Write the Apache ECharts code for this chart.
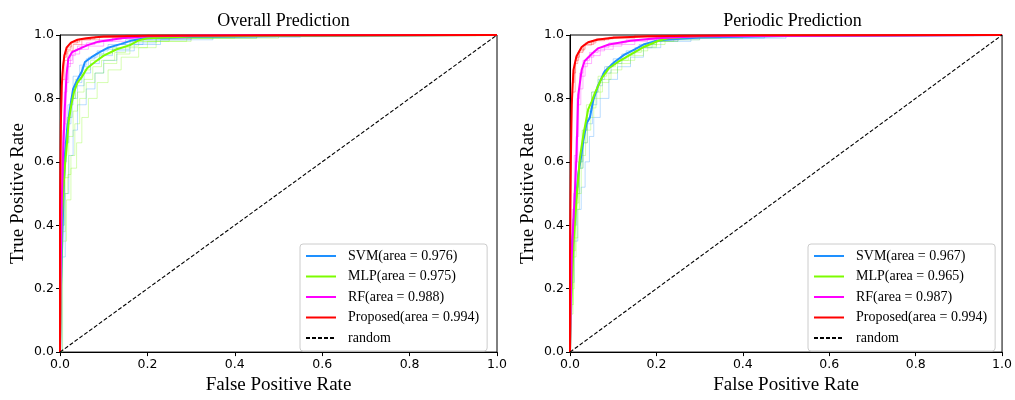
<!DOCTYPE html>
<html>
<head>
<meta charset="utf-8">
<script src="https://cdn.jsdelivr.net/npm/echarts@6/dist/echarts.min.js"></script>
<style>
  html, body { margin: 0; padding: 0; background: #fff; }
  #chart { width: 1015px; height: 400px; }
</style>
</head>
<body>
<div id="chart"></div>
<script>
// ROC curves of four classifiers for two prediction settings.
const models = ['SVM', 'MLP', 'RF', 'Proposed'];
const modelColors = ['#1e90ff', '#7cfc00', '#ff00ff', '#ff0000'];
const panelTitles = ['Overall Prediction', 'Periodic Prediction'];
const overallAUC = [0.976, 0.975, 0.988, 0.994];
const periodicAUC = [0.967, 0.965, 0.987, 0.994];
const tickLabels = ['0.0', '0.2', '0.4', '0.6', '0.8', '1.0'];

// Mean ROC curves, [FPR, TPR]
const overallSVM = [[0,0],[0.002,0.2],[0.005,0.34],[0.008,0.5],[0.011,0.62],[0.016,0.7],[0.023,0.77],[0.03,0.83],[0.04,0.86],[0.05,0.885],[0.057,0.915],[0.072,0.93],[0.09,0.945],[0.11,0.96],[0.14,0.972],[0.165,0.983],[0.195,0.99],[0.3,0.994],[0.5,0.997],[0.7,0.999],[1,1]];
const overallMLP = [[0,0],[0.002,0.15],[0.004,0.41],[0.008,0.52],[0.012,0.6],[0.016,0.66],[0.02,0.73],[0.026,0.78],[0.032,0.82],[0.04,0.85],[0.05,0.868],[0.062,0.895],[0.08,0.915],[0.1,0.935],[0.13,0.955],[0.16,0.968],[0.18,0.983],[0.2,0.99],[0.3,0.995],[0.5,0.998],[1,1]];
const overallRF = [[0,0],[0.002,0.3],[0.004,0.47],[0.007,0.62],[0.011,0.77],[0.015,0.875],[0.019,0.925],[0.027,0.945],[0.034,0.95],[0.05,0.96],[0.065,0.969],[0.088,0.979],[0.14,0.99],[0.2,0.996],[0.4,0.999],[1,1]];
const overallProposed = [[0,0],[0,0.45],[0.002,0.72],[0.004,0.84],[0.007,0.9],[0.01,0.935],[0.015,0.96],[0.025,0.976],[0.04,0.985],[0.06,0.99],[0.1,0.995],[0.2,0.998],[0.5,0.999],[1,1]];

const periodicSVM = [[0,0],[0.002,0.22],[0.004,0.33],[0.008,0.39],[0.012,0.45],[0.019,0.56],[0.025,0.61],[0.031,0.667],[0.038,0.72],[0.046,0.74],[0.054,0.795],[0.065,0.84],[0.08,0.885],[0.103,0.915],[0.126,0.938],[0.15,0.955],[0.17,0.97],[0.195,0.98],[0.22,0.985],[0.3,0.992],[0.5,0.997],[1,1]];
const periodicMLP = [[0,0],[0.002,0.1],[0.004,0.19],[0.008,0.336],[0.015,0.48],[0.023,0.614],[0.031,0.686],[0.042,0.765],[0.05,0.79],[0.057,0.815],[0.073,0.863],[0.09,0.895],[0.111,0.915],[0.142,0.94],[0.172,0.963],[0.205,0.982],[0.226,0.99],[0.3,0.996],[0.5,0.999],[1,1]];
const periodicRF = [[0,0],[0.002,0.15],[0.004,0.3],[0.008,0.42],[0.011,0.5],[0.015,0.62],[0.019,0.81],[0.027,0.89],[0.034,0.918],[0.05,0.94],[0.065,0.958],[0.09,0.97],[0.14,0.982],[0.2,0.99],[0.3,0.996],[1,1]];
const periodicProposed = [[0,0],[0,0.3],[0.002,0.6],[0.004,0.78],[0.008,0.89],[0.015,0.933],[0.027,0.962],[0.042,0.977],[0.065,0.986],[0.1,0.991],[0.18,0.996],[0.4,0.999],[1,1]];

// Per-fold ROC curves (drawn faint behind the means)
const overallSVMFolds = [
  [[0,0],[0.002,0.34],[0.006,0.55],[0.012,0.66],[0.02,0.74],[0.028,0.8],[0.04,0.84],[0.055,0.88],[0.07,0.91],[0.09,0.935],[0.12,0.955],[0.16,0.975],[0.22,0.99],[0.45,1],[1,1]],
  [[0,0],[0.004,0.4],[0.009,0.6],[0.015,0.72],[0.025,0.8],[0.035,0.85],[0.05,0.9],[0.065,0.93],[0.085,0.95],[0.11,0.97],[0.15,0.985],[0.25,0.995],[0.6,1],[1,1]],
  [[0,0],[0.003,0.45],[0.008,0.66],[0.018,0.78],[0.03,0.87],[0.045,0.905],[0.06,0.925],[0.08,0.94],[0.1,0.955],[0.13,0.97],[0.19,0.985],[0.3,0.993],[0.55,1],[1,1]],
  [[0,0],[0.005,0.3],[0.012,0.5],[0.02,0.62],[0.03,0.7],[0.04,0.78],[0.06,0.83],[0.08,0.88],[0.1,0.92],[0.13,0.95],[0.17,0.97],[0.23,0.985],[0.35,0.995],[0.7,1],[1,1]]
];
const overallMLPFolds = [
  [[0,0],[0.003,0.4],[0.01,0.5],[0.018,0.56],[0.025,0.62],[0.034,0.72],[0.045,0.8],[0.06,0.85],[0.08,0.88],[0.1,0.91],[0.13,0.94],[0.16,0.96],[0.2,0.98],[0.29,0.99],[0.45,1],[1,1]],
  [[0,0],[0.002,0.45],[0.008,0.62],[0.016,0.74],[0.025,0.8],[0.035,0.86],[0.05,0.89],[0.07,0.92],[0.09,0.94],[0.12,0.96],[0.16,0.98],[0.22,0.99],[0.4,1],[1,1]],
  [[0,0],[0.004,0.38],[0.012,0.55],[0.02,0.68],[0.03,0.76],[0.04,0.82],[0.055,0.86],[0.075,0.9],[0.095,0.92],[0.125,0.945],[0.15,0.965],[0.18,0.98],[0.25,0.99],[0.35,1],[1,1]],
  [[0,0],[0.006,0.35],[0.015,0.48],[0.025,0.58],[0.038,0.66],[0.05,0.74],[0.065,0.8],[0.085,0.85],[0.11,0.89],[0.14,0.93],[0.18,0.96],[0.22,0.98],[0.3,0.99],[0.5,1],[1,1]]
];
const overallRFFolds = [
  [[0,0],[0.002,0.4],[0.006,0.65],[0.01,0.82],[0.016,0.9],[0.024,0.935],[0.035,0.955],[0.05,0.97],[0.08,0.98],[0.12,0.99],[0.25,1],[1,1]],
  [[0,0],[0.004,0.5],[0.009,0.72],[0.014,0.85],[0.02,0.91],[0.03,0.94],[0.045,0.955],[0.065,0.965],[0.1,0.98],[0.16,0.99],[0.3,1],[1,1]],
  [[0,0],[0.003,0.55],[0.007,0.7],[0.012,0.86],[0.018,0.92],[0.028,0.95],[0.04,0.965],[0.06,0.975],[0.09,0.985],[0.14,0.995],[0.2,1],[1,1]]
];
const overallProposedFolds = [
  [[0,0],[0,0.55],[0.002,0.78],[0.005,0.88],[0.009,0.93],[0.015,0.955],[0.025,0.975],[0.04,0.985],[0.07,0.993],[0.15,1],[1,1]],
  [[0,0],[0,0.4],[0.003,0.75],[0.006,0.86],[0.011,0.92],[0.018,0.95],[0.03,0.97],[0.05,0.985],[0.09,0.992],[0.2,1],[1,1]],
  [[0,0],[0.001,0.6],[0.003,0.82],[0.006,0.9],[0.01,0.94],[0.016,0.962],[0.026,0.978],[0.045,0.988],[0.08,0.995],[0.18,1],[1,1]]
];

const periodicSVMFolds = [
  [[0,0],[0.003,0.22],[0.01,0.35],[0.018,0.45],[0.026,0.52],[0.035,0.6],[0.045,0.68],[0.055,0.74],[0.07,0.8],[0.09,0.86],[0.11,0.9],[0.14,0.93],[0.17,0.96],[0.21,0.98],[0.28,0.99],[0.5,1],[1,1]],
  [[0,0],[0.002,0.3],[0.006,0.42],[0.012,0.52],[0.02,0.6],[0.03,0.7],[0.04,0.76],[0.05,0.82],[0.065,0.86],[0.08,0.9],[0.1,0.925],[0.13,0.95],[0.16,0.97],[0.2,0.985],[0.3,0.995],[0.6,1],[1,1]],
  [[0,0],[0.004,0.28],[0.008,0.4],[0.015,0.5],[0.022,0.58],[0.03,0.66],[0.04,0.72],[0.052,0.78],[0.062,0.84],[0.075,0.88],[0.095,0.91],[0.12,0.94],[0.15,0.96],[0.19,0.98],[0.25,0.99],[0.45,1],[1,1]]
];
const periodicMLPFolds = [
  [[0,0],[0.003,0.15],[0.008,0.3],[0.014,0.45],[0.022,0.58],[0.03,0.66],[0.04,0.74],[0.055,0.8],[0.07,0.85],[0.09,0.88],[0.11,0.91],[0.14,0.935],[0.17,0.96],[0.2,0.98],[0.25,0.99],[0.4,1],[1,1]],
  [[0,0],[0.004,0.2],[0.01,0.36],[0.018,0.5],[0.026,0.62],[0.036,0.7],[0.048,0.77],[0.06,0.82],[0.075,0.86],[0.095,0.89],[0.12,0.92],[0.15,0.95],[0.18,0.97],[0.22,0.985],[0.3,0.995],[0.5,1],[1,1]],
  [[0,0],[0.002,0.12],[0.007,0.32],[0.013,0.47],[0.02,0.6],[0.028,0.7],[0.038,0.78],[0.05,0.82],[0.065,0.87],[0.085,0.9],[0.105,0.92],[0.135,0.945],[0.165,0.965],[0.2,0.98],[0.24,0.99],[0.35,1],[1,1]]
];
const periodicRFFolds = [
  [[0,0],[0.002,0.2],[0.006,0.4],[0.012,0.6],[0.018,0.78],[0.025,0.87],[0.035,0.91],[0.05,0.935],[0.07,0.955],[0.1,0.97],[0.15,0.985],[0.25,0.995],[0.4,1],[1,1]],
  [[0,0],[0.003,0.3],[0.008,0.5],[0.014,0.68],[0.02,0.83],[0.03,0.9],[0.04,0.93],[0.055,0.95],[0.08,0.965],[0.12,0.98],[0.18,0.99],[0.3,1],[1,1]],
  [[0,0],[0.002,0.25],[0.005,0.45],[0.01,0.62],[0.016,0.8],[0.022,0.88],[0.03,0.92],[0.045,0.945],[0.065,0.96],[0.09,0.975],[0.13,0.985],[0.2,0.995],[0.35,1],[1,1]]
];
const periodicProposedFolds = [
  [[0,0],[0,0.4],[0.002,0.68],[0.005,0.85],[0.01,0.91],[0.018,0.945],[0.03,0.968],[0.05,0.982],[0.08,0.99],[0.15,1],[1,1]],
  [[0,0],[0.001,0.5],[0.003,0.75],[0.007,0.88],[0.013,0.93],[0.022,0.955],[0.035,0.975],[0.06,0.988],[0.1,0.995],[0.2,1],[1,1]],
  [[0,0],[0,0.35],[0.003,0.7],[0.006,0.82],[0.012,0.92],[0.02,0.95],[0.032,0.97],[0.055,0.985],[0.09,0.993],[0.25,1],[1,1]]
];

// Chance diagonal
const randomLine = [[0,0],[1,1]];

const panels = [
  { title: panelTitles[0], auc: overallAUC,
    means: [overallSVM, overallMLP, overallRF, overallProposed],
    folds: [overallSVMFolds, overallMLPFolds, overallRFFolds, overallProposedFolds] },
  { title: panelTitles[1], auc: periodicAUC,
    means: [periodicSVM, periodicMLP, periodicRF, periodicProposed],
    folds: [periodicSVMFolds, periodicMLPFolds, periodicRFFolds, periodicProposedFolds] }
];

const gridBoxes = [
  { left: 60, top: 35, width: 437, height: 324 },
  { left: 570, top: 35, width: 435, height: 324 }
];
const legendBoxes = [ { left: 300, top: 244 }, { left: 808, top: 244 } ];

const serif = 'Liberation Serif, Times New Roman, serif';
const sans = 'DejaVu Sans, sans-serif';

const option = {
  animation: false,
  backgroundColor: '#fff',
  title: [], grid: [], xAxis: [], yAxis: [], legend: [], series: []
};

panels.forEach((p, i) => {
  const g = gridBoxes[i];
  option.title.push({
    text: p.title, left: g.left + g.width / 2, top: 7, textAlign: 'center',
    textStyle: { fontFamily: serif, fontSize: 18, fontWeight: 'normal', color: '#000' }
  });
  option.grid.push(Object.assign({ show: true, borderColor: '#000', borderWidth: 1, backgroundColor: 'transparent' }, g));
  const axisCommon = {
    gridIndex: i, type: 'value', min: 0, max: 1, interval: 0.2,
    axisLine: { show: true, onZero: false, lineStyle: { color: '#000', width: 1 } },
    axisTick: { show: true, inside: false, length: 4, lineStyle: { color: '#000' } },
    splitLine: { show: false },
    nameLocation: 'middle',
    nameTextStyle: { fontFamily: serif, fontSize: 19, color: '#000' }
  };
  option.xAxis.push(Object.assign({}, axisCommon, {
    name: 'False Positive Rate', nameGap: 15,
    axisLabel: { color: '#000', fontFamily: sans, fontSize: 12.5, margin: 6,
      formatter: v => tickLabels[Math.round(v / 0.2)] }
  }));
  option.yAxis.push(Object.assign({}, axisCommon, {
    name: 'True Positive Rate', nameGap: 32,
    axisLabel: { color: '#000', fontFamily: sans, fontSize: 12.5, margin: 6,
      formatter: v => tickLabels[Math.round(v / 0.2)] }
  }));

  const legendNames = [];
  // faint fold curves
  p.folds.forEach((set, m) => {
    set.forEach((fold, k) => {
      option.series.push({
        name: models[m] + ' fold ' + (k + 1) + ' ' + i,
        type: 'line', xAxisIndex: i, yAxisIndex: i, data: fold,
        step: 'end', symbol: 'none', silent: true, z: 1,
        lineStyle: { color: modelColors[m], width: 1, opacity: 0.3 }
      });
    });
  });
  // mean curves
  p.means.forEach((curve, m) => {
    const name = models[m] + '(area = ' + p.auc[m].toFixed(3) + ')';
    legendNames.push(name);
    option.series.push({
      name, type: 'line', xAxisIndex: i, yAxisIndex: i, data: curve,
      symbol: 'none', z: 3 + m, color: modelColors[m],
      lineStyle: { color: modelColors[m], width: 2 }
    });
  });
  legendNames.push('random');
  option.series.push({
    name: 'random', type: 'line', xAxisIndex: i, yAxisIndex: i, data: randomLine,
    symbol: 'none', z: 8, color: '#000',
    lineStyle: { color: '#000', width: 1.1, type: [4, 2] }
  });

  option.legend.push({
    data: legendNames, orient: 'vertical',
    left: legendBoxes[i].left, top: legendBoxes[i].top,
    itemWidth: 30, itemHeight: 14, itemGap: 6.5,
    padding: [5, 8, 6, 5],
    borderColor: '#cccccc', borderWidth: 1, borderRadius: 3,
    backgroundColor: 'rgba(255,255,255,0.8)',
    selectedMode: false,
    itemStyle: { opacity: 0 },
    textStyle: { fontFamily: serif, fontSize: 14, color: '#000', padding: [0, 0, 0, 7] }
  });
});

const chart = echarts.init(document.getElementById('chart'), null, { renderer: 'canvas' });
chart.setOption(option);
</script>
</body>
</html>
